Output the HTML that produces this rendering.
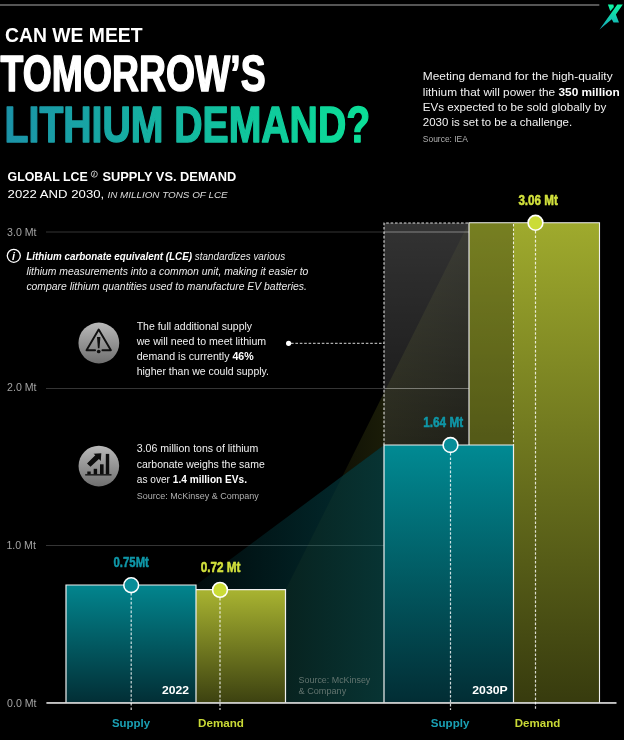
<!DOCTYPE html>
<html lang="en">
<head>
<meta charset="utf-8">
<title>Can we meet tomorrow's lithium demand?</title>
<style>
  html, body { margin: 0; padding: 0; background: #000; }
  body { width: 624px; height: 740px; overflow: hidden; }
  svg { display: block; will-change: transform; transform: translateZ(0); }
  text { font-family: "Liberation Sans", sans-serif; }
  .b { font-weight: bold; }
  .i { font-style: italic; }
</style>
</head>
<body>
<svg width="624" height="740" viewBox="0 0 624 740">
  <defs>
    <linearGradient id="gTitle" x1="6" y1="0" x2="368" y2="0" gradientUnits="userSpaceOnUse">
      <stop offset="0" stop-color="#1b93a8"/>
      <stop offset="1" stop-color="#0bdf97"/>
    </linearGradient>
    <linearGradient id="gTeal" x1="0" y1="0" x2="0" y2="1">
      <stop offset="0" stop-color="#02858e"/>
      <stop offset="1" stop-color="#022e35"/>
    </linearGradient>
    <linearGradient id="gTeal2" x1="0" y1="0" x2="0" y2="1">
      <stop offset="0" stop-color="#018a93"/>
      <stop offset="1" stop-color="#022d34"/>
    </linearGradient>
    <linearGradient id="gOlive" x1="0" y1="0" x2="0" y2="1">
      <stop offset="0" stop-color="#a9b431"/>
      <stop offset="1" stop-color="#3c4110"/>
    </linearGradient>
    <linearGradient id="gOlive2" x1="0" y1="0" x2="0" y2="1">
      <stop offset="0" stop-color="#9faa2d"/>
      <stop offset="1" stop-color="#373b0e"/>
    </linearGradient>
    <linearGradient id="gBox" x1="0" y1="0" x2="0" y2="1">
      <stop offset="0" stop-color="#ffffff" stop-opacity="0.20"/>
      <stop offset="1" stop-color="#ffffff" stop-opacity="0.09"/>
    </linearGradient>
    <linearGradient id="gFanTeal" x1="195" y1="0" x2="384" y2="0" gradientUnits="userSpaceOnUse">
      <stop offset="0" stop-color="#067a84" stop-opacity="0.09"/>
      <stop offset="1" stop-color="#067a84" stop-opacity="0.38"/>
    </linearGradient>
    <linearGradient id="gFanOlive" x1="285" y1="0" x2="470" y2="0" gradientUnits="userSpaceOnUse">
      <stop offset="0.31" stop-color="#8a9428" stop-opacity="0.12"/>
      <stop offset="0.535" stop-color="#8a9428" stop-opacity="0.19"/>
      <stop offset="0.54" stop-color="#8a9428" stop-opacity="0.13"/>
      <stop offset="1" stop-color="#8a9428" stop-opacity="0.07"/>
    </linearGradient>
    <linearGradient id="gIcon" x1="0" y1="0" x2="0" y2="1">
      <stop offset="0" stop-color="#b9b9b9"/>
      <stop offset="1" stop-color="#6f6f6f"/>
    </linearGradient>
    <linearGradient id="gLogo" x1="0" y1="4" x2="0" y2="30" gradientUnits="userSpaceOnUse">
      <stop offset="0" stop-color="#0ffaa2"/>
      <stop offset="1" stop-color="#16a3bb"/>
    </linearGradient>
  </defs>

  <rect x="0" y="0" width="624" height="740" fill="#000"/>

  <!-- top rule -->
  <rect x="0" y="4.1" width="599.3" height="1.8" fill="#5f5f5f"/>

  <!-- ===== gridlines ===== -->
  <g stroke="#353535" stroke-width="1">
    <line x1="46" y1="232" x2="599" y2="232"/>
    <line x1="46" y1="388.5" x2="599" y2="388.5"/>
    <line x1="46" y1="545.5" x2="599" y2="545.5"/>
  </g>
  <g fill="#a3a3a3" font-size="10.6">
    <text x="7.1" y="236.3">3.0 Mt</text>
    <text x="7.1" y="391.3">2.0 Mt</text>
    <text x="6.4" y="549.1">1.0 Mt</text>
    <text x="7.1" y="706.8">0.0 Mt</text>
  </g>

  <!-- ===== projection fans ===== -->
  <polygon points="342.5,475.9 384,392.7 469,222.5 469,445 384,445" fill="url(#gFanOlive)"/>
  <polygon points="285.5,590 342.5,475.9 384,445 384,703 285.5,703" fill="#8a9428" fill-opacity="0.06"/>
  <polygon points="196,585 384,445 384,703 196,703" fill="url(#gFanTeal)"/>

  <!-- ===== shortfall box ===== -->
  <rect x="384" y="223" width="85" height="222" fill="url(#gBox)"/>
  <g stroke="#fff" stroke-opacity="0.22" stroke-width="1">
    <line x1="384" y1="232" x2="469" y2="232"/>
    <line x1="384" y1="388.5" x2="469" y2="388.5"/>
  </g>

  <!-- ===== 2030 demand bar ===== -->
  <rect x="469" y="222.8" width="130.5" height="480.2" fill="url(#gOlive2)"/>
  <rect x="469" y="222.8" width="44.5" height="222.2" fill="#000" fill-opacity="0.25"/>
  <path d="M469,703 V222.8 H599.5 V703" fill="none" stroke="#f0f0f0" stroke-width="1.1"/>

  <!-- shortfall dashed outline -->
  <path d="M468,223 H384 V445 M513.5,224 V445" fill="none" stroke="#fff" stroke-opacity="0.85" stroke-width="1.1" stroke-dasharray="2.6 1.8"/>

  <!-- ===== 2030 supply bar ===== -->
  <rect x="384" y="445" width="129.5" height="258" fill="url(#gTeal2)"/>
  <path d="M384,703 V445 H513.5 V703" fill="none" stroke="#f0f0f0" stroke-width="1.2"/>

  <!-- ===== 2022 bars ===== -->
  <rect x="66" y="585" width="130" height="118" fill="url(#gTeal)"/>
  <rect x="196" y="589.6" width="89.5" height="113.4" fill="url(#gOlive)"/>
  <path d="M66,703 V585 H196 V703" fill="none" stroke="#f0f0f0" stroke-width="1.2"/>
  <path d="M196,589.6 H285.5 V703" fill="none" stroke="#f0f0f0" stroke-width="1.2"/>

  <!-- axis -->
  <rect x="46.4" y="702.1" width="570.1" height="1.7" fill="#d9d9d9"/>

  <!-- drop lines -->
  <g stroke="#fff" stroke-opacity="0.82" stroke-width="1.2" stroke-dasharray="2.6 1.8" fill="none">
    <line x1="131.2" y1="593" x2="131.2" y2="710"/>
    <line x1="220" y1="598" x2="220" y2="710"/>
    <line x1="450.5" y1="453" x2="450.5" y2="710"/>
    <line x1="535.5" y1="231" x2="535.5" y2="710"/>
  </g>

  <!-- connector -->
  <line x1="291" y1="343.3" x2="384" y2="343.3" stroke="#fff" stroke-opacity="0.85" stroke-width="1" stroke-dasharray="2.6 1.8"/>
  <circle cx="288.6" cy="343.3" r="2.6" fill="#fff"/>

  <!-- dots -->
  <circle cx="131.2" cy="585.2" r="7.4" fill="#078d98" stroke="#fff" stroke-width="1.6"/>
  <circle cx="220" cy="589.9" r="7.4" fill="#cbdc37" stroke="#fff" stroke-width="1.6"/>
  <circle cx="450.5" cy="445" r="7.4" fill="#078d98" stroke="#fff" stroke-width="1.6"/>
  <circle cx="535.5" cy="222.8" r="7.4" fill="#cbdc37" stroke="#fff" stroke-width="1.6"/>

  <!-- ===== headline ===== -->
  <text class="b" x="5" y="42.4" font-size="19.8" fill="#fff" textLength="137.5" lengthAdjust="spacingAndGlyphs">CAN WE MEET</text>
  <text class="b" x="0.6" y="90.8" font-size="49.8" fill="#fff" stroke="#fff" stroke-width="1.5" stroke-linejoin="round" textLength="265" lengthAdjust="spacingAndGlyphs">TOMORROW’S</text>
  <text class="b" x="4.6" y="141.8" font-size="50.6" fill="url(#gTitle)" stroke="url(#gTitle)" stroke-width="1.5" stroke-linejoin="round" textLength="365.5" lengthAdjust="spacingAndGlyphs">LITHIUM DEMAND?</text>

  <!-- sub headline -->
  <g class="b" font-size="12.1" fill="#fff">
    <text x="7.6" y="181" textLength="80.1" lengthAdjust="spacingAndGlyphs">GLOBAL LCE</text>
    <text x="102.4" y="181" textLength="134" lengthAdjust="spacingAndGlyphs">SUPPLY VS. DEMAND</text>
  </g>
  <circle cx="94.3" cy="174.1" r="3.05" fill="none" stroke="#f2f2f2" stroke-width="0.75"/>
  <text class="b i" x="93.35" y="176.2" font-size="5.6" fill="#f2f2f2">i</text>
  <text x="7.6" y="198" font-size="11.6" fill="#fff" textLength="96.6" lengthAdjust="spacingAndGlyphs">2022 AND 2030,</text>
  <text class="i" x="107.4" y="198" font-size="9.6" fill="#dcdcdc" textLength="120.2" lengthAdjust="spacingAndGlyphs">IN MILLION TONS OF LCE</text>

  <!-- intro paragraph -->
  <g font-size="11.8" fill="#f2f2f2">
    <text x="422.8" y="80.3" textLength="189.8" lengthAdjust="spacingAndGlyphs">Meeting demand for the high-quality</text>
    <text x="422.8" y="95.5" textLength="196.9" lengthAdjust="spacingAndGlyphs">lithium that will power the <tspan class="b" fill="#fff">350 million</tspan></text>
    <text x="422.8" y="110.7" textLength="183.4" lengthAdjust="spacingAndGlyphs">EVs expected to be sold globally by</text>
    <text x="422.8" y="126" textLength="149.4" lengthAdjust="spacingAndGlyphs">2030 is set to be a challenge.</text>
  </g>
  <text x="422.8" y="142.3" font-size="8.9" fill="#b0b0b0" textLength="45.1" lengthAdjust="spacingAndGlyphs">Source: IEA</text>

  <!-- LCE note -->
  <circle cx="13.8" cy="255.8" r="6.5" fill="none" stroke="#fff" stroke-width="1.3"/>
  <text class="b i" x="12.1" y="259.8" font-size="10.8" fill="#fff">i</text>
  <g font-size="11" fill="#e9e9e9" class="i">
    <text x="26.2" y="259.8" textLength="259" lengthAdjust="spacingAndGlyphs"><tspan class="b" fill="#fff">Lithium carbonate equivalent (LCE)</tspan> standardizes various</text>
    <text x="26.4" y="274.8" textLength="282" lengthAdjust="spacingAndGlyphs">lithium measurements into a common unit, making it easier to</text>
    <text x="26.4" y="290" textLength="280.4" lengthAdjust="spacingAndGlyphs">compare lithium quantities used to manufacture EV batteries.</text>
  </g>

  <!-- callout 1 -->
  <circle cx="98.85" cy="343" r="20.4" fill="url(#gIcon)"/>
  <g fill="none" stroke="#0f0f0f" stroke-width="1.9" stroke-linejoin="round" stroke-linecap="round">
    <path d="M95.1,350.3 H86.5 L98.7,329.6 L110.9,350.3 H102.4"/>
  </g>
  <path d="M97,337 H100.4 L99.5,348.3 H97.9 Z" fill="#0f0f0f"/>
  <circle cx="98.7" cy="351.5" r="1.85" fill="#0f0f0f"/>
  <g font-size="10.9" fill="#f0f0f0">
    <text x="136.7" y="329.9" textLength="115.4" lengthAdjust="spacingAndGlyphs">The full additional supply</text>
    <text x="136.7" y="345.2" textLength="129.4" lengthAdjust="spacingAndGlyphs">we will need to meet lithium</text>
    <text x="136.7" y="360.4" textLength="117" lengthAdjust="spacingAndGlyphs">demand is currently <tspan class="b" fill="#fff">46%</tspan></text>
    <text x="136.7" y="375.2" textLength="132.3" lengthAdjust="spacingAndGlyphs">higher than we could supply.</text>
  </g>

  <!-- callout 2 -->
  <circle cx="98.85" cy="466.1" r="20.3" fill="url(#gIcon)"/>
  <g fill="#0d0d0d">
    <rect x="87.3" y="471.5" width="3.4" height="2.8"/>
    <rect x="93.7" y="468.8" width="3.4" height="5.5"/>
    <rect x="100" y="464.3" width="3.6" height="10"/>
    <rect x="105.8" y="453.9" width="3.4" height="20.4"/>
    <rect x="85.2" y="474.2" width="26.3" height="1.3"/>
    <path d="M87,463.4 L95.3,455.3 L93.6,453.7 L101.3,453.2 L100.8,461 L98.9,459 L90.5,466.8 Z"/>
  </g>
  <g font-size="10.9" fill="#f0f0f0">
    <text x="136.8" y="452.3" textLength="121.5" lengthAdjust="spacingAndGlyphs">3.06 million tons of lithium</text>
    <text x="136.8" y="467.6" textLength="127.9" lengthAdjust="spacingAndGlyphs">carbonate weighs the same</text>
    <text x="136.8" y="483.1" textLength="110.2" lengthAdjust="spacingAndGlyphs">as over <tspan class="b" fill="#fff">1.4 million EVs.</tspan></text>
  </g>
  <text x="136.8" y="498.6" font-size="8.9" fill="#b0b0b0" textLength="122" lengthAdjust="spacingAndGlyphs">Source: McKinsey &amp; Company</text>

  <!-- value labels -->
  <g class="b" font-size="14.2" stroke-width="0.5" stroke-linejoin="round">
    <text x="113.5" y="567.1" fill="#0f97a8" stroke="#0f97a8" textLength="35.4" lengthAdjust="spacingAndGlyphs">0.75Mt</text>
    <text x="200.7" y="571.5" fill="#d2e13c" stroke="#d2e13c" textLength="39.8" lengthAdjust="spacingAndGlyphs">0.72 Mt</text>
    <text x="423.2" y="427.4" fill="#0f97a8" stroke="#0f97a8" textLength="40" lengthAdjust="spacingAndGlyphs">1.64 Mt</text>
    <text x="518.4" y="204.6" fill="#d2e13c" stroke="#d2e13c" textLength="39.4" lengthAdjust="spacingAndGlyphs">3.06 Mt</text>
  </g>

  <!-- year labels -->
  <g class="b" font-size="11.2" fill="#fff">
    <text x="162" y="694" textLength="27" lengthAdjust="spacingAndGlyphs">2022</text>
    <text x="472.3" y="694" textLength="35.4" lengthAdjust="spacingAndGlyphs">2030P</text>
  </g>

  <!-- axis category labels -->
  <g class="b" font-size="11.3">
    <text x="112" y="727" fill="#1aa0b4" textLength="38" lengthAdjust="spacingAndGlyphs">Supply</text>
    <text x="198" y="727" fill="#c9d936" textLength="46" lengthAdjust="spacingAndGlyphs">Demand</text>
    <text x="430.8" y="727" fill="#1aa0b4" textLength="38.6" lengthAdjust="spacingAndGlyphs">Supply</text>
    <text x="514.8" y="727" fill="#c9d936" textLength="45.5" lengthAdjust="spacingAndGlyphs">Demand</text>
  </g>

  <!-- chart source -->
  <g font-size="8.9" fill="#62746f">
    <text x="298.6" y="683" textLength="71.7" lengthAdjust="spacingAndGlyphs">Source: McKinsey</text>
    <text x="298.6" y="693.8" textLength="47.6" lengthAdjust="spacingAndGlyphs">&amp; Company</text>
  </g>

  <!-- logo -->
  <g fill="url(#gLogo)">
    <path d="M607.9,4.6 H613.4 L613.9,7.1 L610.3,11.3 Z"/>
    <path d="M617.3,4.6 H622.8 L615.9,14.4 L619,22.6 H613.5 L611.8,19.2 L599.5,29.6 Z"/>
  </g>
</svg>
</body>
</html>
